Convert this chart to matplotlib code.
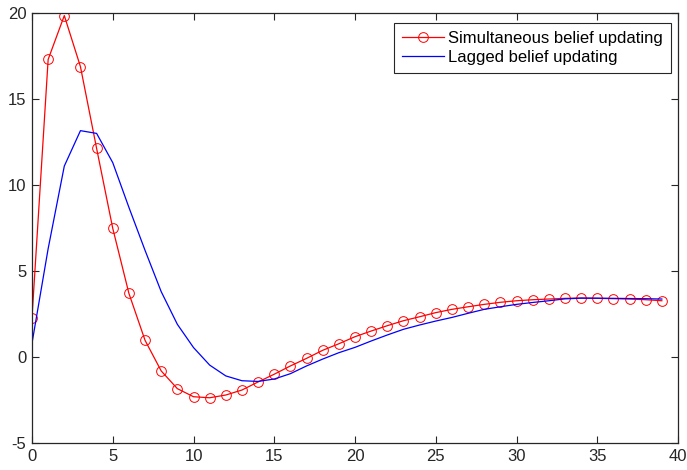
import matplotlib.pyplot as plt

plt.rcParams['font.family'] = ['Liberation Sans', 'DejaVu Sans']
plt.rcParams['axes.unicode_minus'] = False

# periods 0..39
periods = list(range(40))

# simultaneous belief updating (red, circles)
simultaneous = [2.29, 17.3, 19.85, 16.88, 12.13, 7.48, 3.7, 0.97, -0.81, -1.84,
                -2.31, -2.37, -2.21, -1.92, -1.45, -1.0, -0.52, -0.08, 0.39, 0.77,
                1.18, 1.51, 1.82, 2.11, 2.34, 2.58, 2.77, 2.92, 3.06, 3.18,
                3.27, 3.33, 3.37, 3.41, 3.43, 3.41, 3.39, 3.37, 3.33, 3.27]

# lagged belief updating (blue)
lagged = [0.8, 6.3, 11.1, 13.16, 13.0, 11.3, 8.7, 6.2, 3.8, 1.9,
          0.55, -0.47, -1.1, -1.38, -1.42, -1.28, -0.97, -0.52, -0.12, 0.25,
          0.56, 0.93, 1.28, 1.61, 1.86, 2.09, 2.3, 2.54, 2.77, 2.92,
          3.06, 3.17, 3.27, 3.38, 3.42, 3.42, 3.41, 3.4, 3.39, 3.37]

fig = plt.figure(figsize=(6.87, 4.70), dpi=100)
ax = fig.add_axes([32 / 687, 27 / 470, 646 / 687, 430 / 470])

ax.plot(periods, simultaneous, color='red', linewidth=0.9, marker='o',
        markersize=7, markerfacecolor='none', markeredgewidth=0.7,
        label='Simultaneous belief updating')
ax.plot(periods, lagged, color='blue', linewidth=0.9,
        label='Lagged belief updating')

ax.set_xlim(0, 40)
ax.set_ylim(-5, 20)
ax.set_xticks(range(0, 41, 5))
ax.set_yticks(range(-5, 21, 5))
ax.tick_params(direction='in', top=True, right=True, labelsize=12,
               length=5, width=0.8, colors='#262626', pad=4)
for s in ax.spines.values():
    s.set_linewidth(0.9)
    s.set_color('#262626')

# legend box in the upper right, square corners
leg = ax.legend(loc='upper right', fontsize=12, fancybox=False,
                framealpha=1, edgecolor='#262626', borderpad=0.5,
                handlelength=2.5, handletextpad=0.25, labelspacing=0.2,
                borderaxespad=0, bbox_to_anchor=(0.989, 0.977))
leg.get_frame().set_linewidth(0.8)

fig.savefig('out.png', dpi=100)
